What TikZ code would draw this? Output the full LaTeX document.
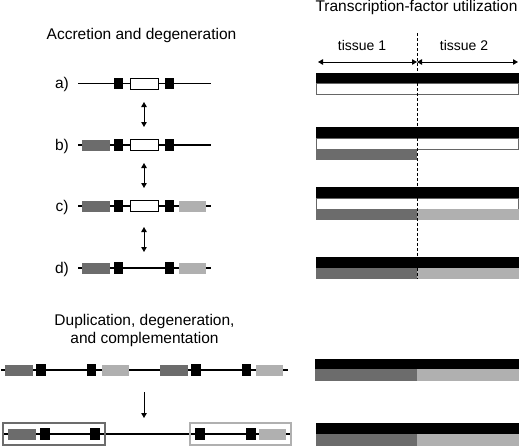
\documentclass[tikz,border=0pt]{standalone}
\usepackage{fontspec}
\setmainfont{Liberation Sans}
\usetikzlibrary{arrows.meta}
\definecolor{dg}{RGB}{108,108,108}
\definecolor{lg}{RGB}{176,176,176}
\begin{document}
\begin{tikzpicture}[x=1pt,y=-1pt,
  blk/.style={rectangle,fill=black,inner sep=0,minimum width=9.5pt,minimum height=11.5pt},
  wbox/.style={rectangle,fill=white,draw=black,line width=1pt,inner sep=0,minimum width=28pt,minimum height=11pt},
  dbox/.style={rectangle,fill=dg,inner sep=0,minimum width=28pt,minimum height=11pt},
  lbox/.style={rectangle,fill=lg,inner sep=0,minimum width=27pt,minimum height=11pt},
  dna/.style={line width=1.3pt},
  ttl/.style={font=\fontsize{15.5}{18}\selectfont,anchor=base,inner sep=0},
  lab/.style={font=\fontsize{15.5}{18}\selectfont,anchor=base,inner sep=0},
  tis/.style={font=\fontsize{14}{16}\selectfont,anchor=base,inner sep=0},
  dbl/.style={line width=1pt,{Triangle[width=5.5pt,length=5pt]}-{Triangle[width=5.5pt,length=5pt]}},
  sgl/.style={line width=1pt,-{Triangle[width=5.5pt,length=5pt]}}
]
\useasboundingbox (0,0) rectangle (520,447);
% titles
\node[ttl] (t1) at (141.5,39) {Accretion and degeneration};
\node[ttl] (t2) at (144.5,325) {Duplication, degeneration,};
\node[ttl] (t3) at (144.5,343) {and complementation};
\node[ttl] (t4) at (416.5,11) {Transcription-factor utilization};
% row labels
\node[lab] (la) at (62,88) {a)};
\node[lab] (lb) at (62,150) {b)};
\node[lab] (lc) at (62,211) {c)};
\node[lab] (ld) at (62,273) {d)};
% row a
\coordinate (a0) at (78,83.5); \coordinate (a1) at (211,83.5);
\draw[dna] (a0) -- (a1);
\node[blk] (a2) at (118.5,83.5) {};
\node[wbox] (a3) at (144,83.5) {};
\node[blk] (a4) at (169.5,83.5) {};
% row b
\coordinate (b0) at (78,145); \coordinate (b1) at (211,145);
\draw[dna] (b0) -- (b1);
\node[dbox] (b5) at (96,145) {};
\node[blk] (b2) at (118.5,145) {};
\node[wbox] (b3) at (144,145) {};
\node[blk] (b4) at (169.5,145) {};
% row c
\coordinate (c0) at (78,206); \coordinate (c1) at (211,206);
\draw[dna] (c0) -- (c1);
\node[dbox] (c5) at (96,206) {};
\node[blk] (c2) at (118.5,206) {};
\node[wbox] (c3) at (144,206) {};
\node[blk] (c4) at (169.5,206) {};
\node[lbox] (c6) at (192.5,206) {};
% row d
\coordinate (d0) at (78,268); \coordinate (d1) at (211,268);
\draw[dna] (d0) -- (d1);
\node[dbox] (d5) at (96,268) {};
\node[blk] (d2) at (118.5,268) {};
\node[blk] (d4) at (169.5,268) {};
\node[lbox] (d6) at (192.5,268) {};
% arrows between rows
\coordinate (ab1) at (144,102); \coordinate (ab2) at (144,127);
\coordinate (bc1) at (144,163); \coordinate (bc2) at (144,188);
\coordinate (cd1) at (144,227); \coordinate (cd2) at (144,252);
\draw[dbl] (ab1) -- (ab2);
\draw[dbl] (bc1) -- (bc2);
\draw[dbl] (cd1) -- (cd2);
% duplicated row
\coordinate (e0) at (1,370); \coordinate (e1) at (288,370);
\draw[dna] (e0) -- (e1);
\node[dbox] (e2) at (19,370) {};
\node[blk] (e3) at (41,370) {};
\node[blk] (e4) at (91.5,370) {};
\node[lbox] (e5) at (115,370) {};
\node[dbox] (e6) at (173.5,370) {};
\node[blk] (e7) at (196,370) {};
\node[blk] (e8) at (246.5,370) {};
\node[lbox] (e9) at (269.5,370) {};
\coordinate (ef1) at (144,392); \coordinate (ef2) at (144,418);
\draw[sgl] (ef1) -- (ef2);
% bottom row
\coordinate (f0) at (3,434); \coordinate (f1) at (291,434);
\draw[dna] (f0) -- (f1);
\node[rectangle,draw=dg,line width=1.4pt,inner sep=0,minimum width=102pt,minimum height=22pt] (fb1) at (54,434) {};
\node[rectangle,draw=lg,line width=1.4pt,inner sep=0,minimum width=101pt,minimum height=22pt] (fb2) at (240.5,434) {};
\node[dbox] (f2) at (21.5,434) {};
\node[blk] (f3) at (45,434) {};
\node[blk] (f4) at (95,434) {};
\node[blk] (f5) at (200,434) {};
\node[blk] (f6) at (251,434) {};
\node[lbox] (f7) at (272.5,434) {};
% right side: tissues
\node[tis] (ts1) at (362,50) {tissue 1};
\node[tis] (ts2) at (464,50) {tissue 2};
\coordinate (tl) at (318,62); \coordinate (tm) at (417,62); \coordinate (tr) at (518,62);
\draw[dbl] (tl) -- (tm);
\draw[dbl] (tm) -- (tr);
% bars
\fill[black] (316,73) rectangle (519,83);
\draw[fill=white,draw=black!60,line width=0.7pt] (316.3,83) rectangle (518.7,94);
\fill[black] (316,127) rectangle (519,138);
\draw[fill=white,draw=black!60,line width=0.7pt] (316.3,138) rectangle (518.7,149);
\fill[dg] (316,149) rectangle (417,160);
\fill[black] (316,187) rectangle (519,198);
\draw[fill=white,draw=black!60,line width=0.7pt] (316.3,198) rectangle (518.7,209);
\fill[dg] (316,209) rectangle (417,220);
\fill[lg] (417,209) rectangle (519,220);
\fill[black] (316,257) rectangle (519,268);
\fill[dg] (316,268) rectangle (417,279);
\fill[lg] (417,268) rectangle (519,279);
\fill[black] (315,359) rectangle (519,369);
\fill[dg] (315,369) rectangle (417,381);
\fill[lg] (417,369) rectangle (519,381);
\fill[black] (316,423) rectangle (519,434);
\fill[dg] (316,434) rectangle (417,446);
\fill[lg] (417,434) rectangle (519,446);
% dashed divider
\coordinate (v0) at (417,33); \coordinate (v1) at (417,279);
\draw[line width=0.9pt,dash pattern=on 3pt off 2pt] (v0) -- (v1);
\end{tikzpicture}
\end{document}
